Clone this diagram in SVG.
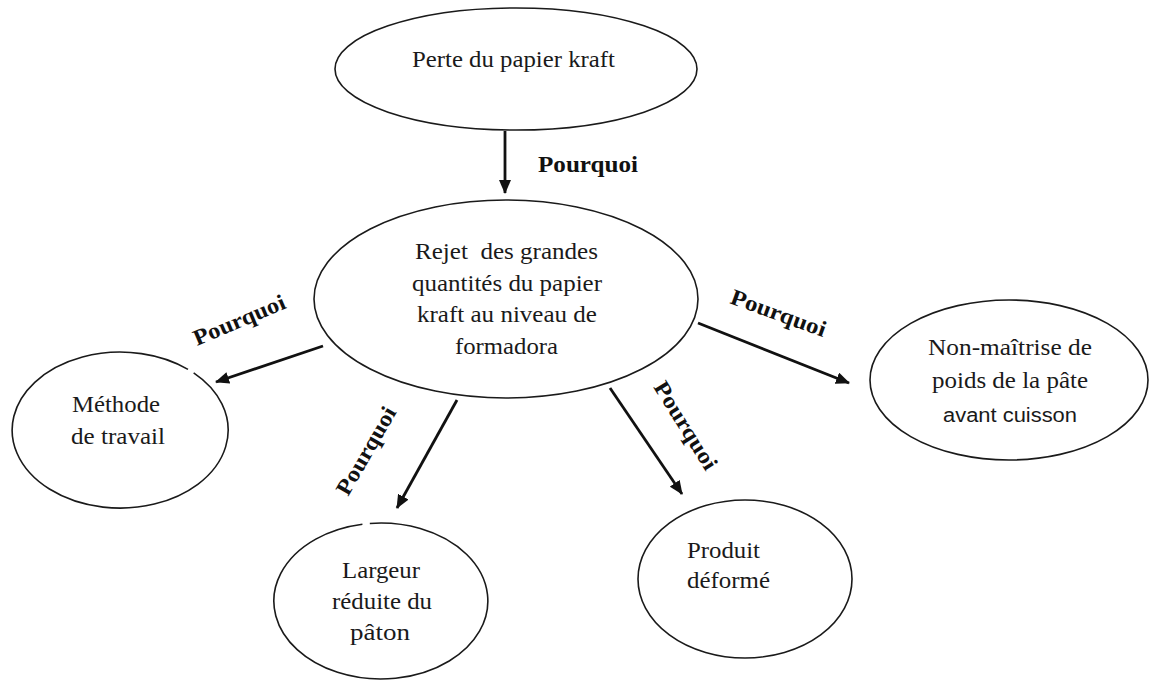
<svg xmlns="http://www.w3.org/2000/svg" width="1150" height="682" viewBox="0 0 1150 682">
<style>
.shape{fill:#fff;stroke:#1a1a1a;stroke-width:1.6}
.txt{font-family:'Liberation Serif',serif;font-size:23px;fill:#1a1a1a}
.sans{font-family:'Liberation Sans',sans-serif;font-size:20px;fill:#1a1a1a}
.lbl{font-family:'Liberation Serif',serif;font-size:22.5px;font-weight:bold;fill:#111}
.arr{stroke:#111;stroke-width:2.8;fill:none;marker-end:url(#ah)}
</style>
<defs>
<marker id="ah" markerUnits="userSpaceOnUse" markerWidth="14" markerHeight="12" refX="13" refY="6" orient="auto">
<path d="M0,0 L14,6 L0,12 Z" fill="#111"/>
</marker>
</defs>
<rect width="1150" height="682" fill="#fff"/>
<g id="connectors">
<line class="arr" x1="505" y1="131" x2="505" y2="193"/>
<line class="arr" x1="323" y1="346" x2="216" y2="382"/>
<line class="arr" x1="698" y1="323" x2="849" y2="383"/>
<line class="arr" x1="457" y1="400" x2="397" y2="508"/>
<line class="arr" x1="610" y1="388" x2="682" y2="494"/>
<text class="lbl" x="538" y="172" textLength="100" lengthAdjust="spacingAndGlyphs">Pourquoi</text>
<text class="lbl" transform="translate(197,346) rotate(-23)" textLength="98" lengthAdjust="spacingAndGlyphs">Pourquoi</text>
<text class="lbl" transform="translate(729,303) rotate(20)" textLength="100" lengthAdjust="spacingAndGlyphs">Pourquoi</text>
<text class="lbl" transform="translate(348,497) rotate(-60)" textLength="98" lengthAdjust="spacingAndGlyphs">Pourquoi</text>
<text class="lbl" transform="translate(653,387) rotate(58)" textLength="100" lengthAdjust="spacingAndGlyphs">Pourquoi</text>
</g>
<g id="perte">
<ellipse class="shape" cx="516" cy="69" rx="181" ry="61"/>
<text class="txt" x="412" y="67" textLength="203" lengthAdjust="spacingAndGlyphs">Perte du papier kraft</text>
</g>
<g id="rejet">
<ellipse class="shape" cx="506" cy="299" rx="192" ry="99"/>
<text class="txt" x="415" y="259" textLength="183" lengthAdjust="spacingAndGlyphs" xml:space="preserve">Rejet  des grandes</text>
<text class="txt" x="412" y="291" textLength="190" lengthAdjust="spacingAndGlyphs">quantités du papier</text>
<text class="txt" x="417" y="322" textLength="180" lengthAdjust="spacingAndGlyphs">kraft au niveau de</text>
<text class="txt" x="455" y="354" textLength="103" lengthAdjust="spacingAndGlyphs">formadora</text>
</g>
<g id="methode">
<path class="shape" d="M193.66,372.95 A108,78 0 1 1 187.97,369.39"/>
<text class="txt" x="72" y="412" textLength="88" lengthAdjust="spacingAndGlyphs">Méthode</text>
<text class="txt" x="71" y="444" textLength="94" lengthAdjust="spacingAndGlyphs">de travail</text>
</g>
<g id="nonmaitrise">
<ellipse class="shape" cx="1009" cy="380" rx="139" ry="80"/>
<text class="txt" x="928" y="355" textLength="164" lengthAdjust="spacingAndGlyphs">Non-maîtrise de</text>
<text class="txt" x="932" y="388" textLength="156" lengthAdjust="spacingAndGlyphs">poids de la pâte</text>
<text class="sans" x="943" y="422" textLength="134" lengthAdjust="spacingAndGlyphs">avant cuisson</text>
</g>
<g id="largeur">
<path class="shape" d="M369.82,523.43 A107,78 0 1 1 362.42,524.18"/>
<text class="txt" x="342" y="578" textLength="78" lengthAdjust="spacingAndGlyphs">Largeur</text>
<text class="txt" x="332" y="609" textLength="100" lengthAdjust="spacingAndGlyphs">réduite du</text>
<text class="txt" x="350" y="640" textLength="60" lengthAdjust="spacingAndGlyphs">pâton</text>
</g>
<g id="produit">
<ellipse class="shape" cx="745" cy="579" rx="107" ry="79"/>
<text class="txt" x="687" y="558" textLength="73" lengthAdjust="spacingAndGlyphs">Produit</text>
<text class="txt" x="687" y="588" textLength="83" lengthAdjust="spacingAndGlyphs">déformé</text>
</g>
</svg>
